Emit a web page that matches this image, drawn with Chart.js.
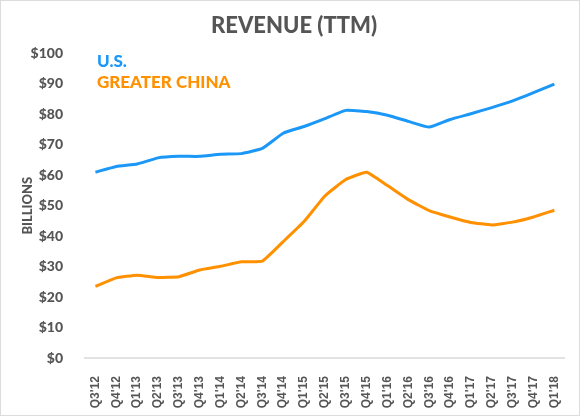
<!DOCTYPE html>
<html>
<head>
<meta charset="utf-8">
<script src="https://cdn.jsdelivr.net/npm/chart.js@4.4.0/dist/chart.umd.min.js"></script>
<style>
  html, body { margin: 0; padding: 0; background: #fff; }
  #wrap { width: 578px; height: 414px; border: 1px solid #dcdcdc; }
</style>
</head>
<body>
<div id="wrap"><canvas id="myChart" width="578" height="414"></canvas></div>
<script>
// quarters on the x axis
const quarters = ["Q3'12", "Q4'12", "Q1'13", "Q2'13", "Q3'13", "Q4'13", "Q1'14", "Q2'14",
  "Q3'14", "Q4'14", "Q1'15", "Q2'15", "Q3'15", "Q4'15", "Q1'16", "Q2'16", "Q3'16",
  "Q4'16", "Q1'17", "Q2'17", "Q3'17", "Q4'17", "Q1'18"];

// trailing twelve months revenue, billions
const usRevenue = [61.0, 62.9, 63.7, 65.7, 66.2, 66.2, 66.9, 67.1, 68.8, 73.8, 76.0, 78.6,
  81.3, 80.9, 79.7, 77.7, 75.8, 78.3, 80.2, 82.2, 84.4, 87.1, 89.9];
const chinaRevenue = [23.5, 26.3, 27.2, 26.4, 26.7, 28.9, 30.1, 31.6, 31.8, 38.2, 44.8, 53.2,
  58.6, 61.0, 56.6, 52.0, 48.4, 46.3, 44.5, 43.7, 44.6, 46.3, 48.5];

const yTicks = [0, 10, 20, 30, 40, 50, 60, 70, 80, 90, 100];

const BLUE = '#1a97f7';
const ORANGE = '#ff9000';
const GRIS = '#555555';

// leyenda dentro del area del grafico, solo texto con color
const textoLeyenda = {
  id: 'textoLeyenda',
  afterDraw(chart) {
    const c = chart.ctx;
    const area = chart.chartArea;
    c.save();
    c.font = '900 17px Lato';
    c.textBaseline = 'middle';
    c.textAlign = 'left';
    chart.data.datasets.forEach((ds, i) => {
      c.fillStyle = ds.borderColor;
      c.fillText(ds.label, area.left + 12, area.top + 8 + i * 21);
    });
    c.restore();
  }
};

const ctx = document.getElementById('myChart').getContext('2d');
const myChart = new Chart(ctx, {
  type: 'line',
  data: {
    labels: quarters,
    datasets: [{
      label: 'U.S.',
      data: usRevenue,
      borderColor: BLUE,
      borderWidth: 3,
      pointRadius: 0,
      tension: 0.12,
      fill: false
    }, {
      label: 'GREATER CHINA',
      data: chinaRevenue,
      borderColor: ORANGE,
      borderWidth: 3,
      pointRadius: 0,
      tension: 0.12,
      fill: false
    }]
  },
  options: {
    responsive: false,
    animation: false,
    layout: { padding: { left: 19, right: 11, top: 10, bottom: 0 } },
    plugins: {
      legend: { display: false },
      tooltip: { enabled: false },
      title: {
        display: true,
        text: 'REVENUE (TTM)',
        color: GRIS,
        font: { family: 'Lato', size: 22, weight: '900' },
        padding: { top: 2, bottom: 14 }
      }
    },
    scales: {
      x: {
        offset: true,
        afterFit(scale) { scale.height = 57; },
        grid: { display: false },
        border: { display: true, color: '#e2e2e2', width: 2 },
        ticks: {
          color: GRIS,
          font: { family: 'Liberation Sans', size: 12, weight: 'bold' },
          maxRotation: 90,
          minRotation: 90,
          autoSkip: false,
          padding: 10
        }
      },
      y: {
        min: 0,
        max: 100,
        afterBuildTicks(scale) { scale.ticks = yTicks.map(v => ({ value: v })); },
        afterFit(scale) { scale.width = 65; },
        grid: { display: false },
        border: { display: false },
        title: {
          display: true,
          text: 'BILLIONS',
          color: GRIS,
          font: { family: 'Lato', size: 13, weight: '900' },
          padding: { top: 0, bottom: 2 }
        },
        ticks: {
          color: GRIS,
          font: { family: 'Lato', size: 14, weight: '900' },
          padding: 14,
          callback: v => '$' + v
        }
      }
    }
  },
  plugins: [textoLeyenda]
});
</script>
</body>
</html>
